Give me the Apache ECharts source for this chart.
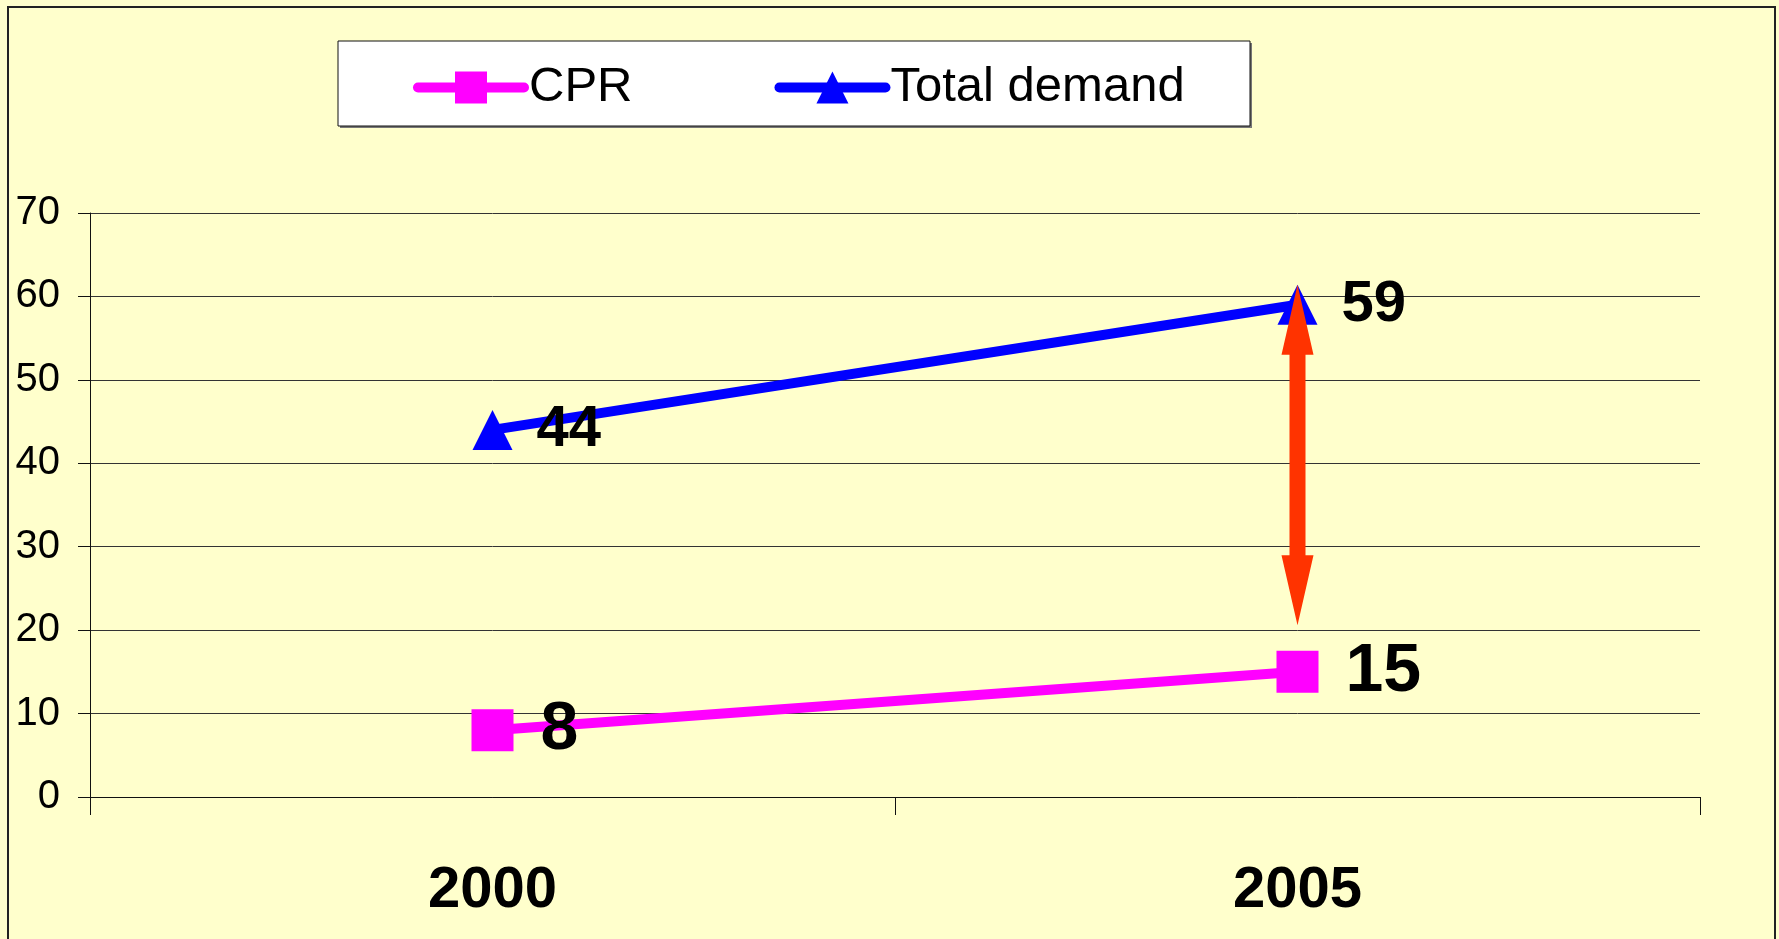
<!DOCTYPE html>
<html>
<head>
<meta charset="utf-8">
<title>CPR and total demand</title>
<script src="https://cdn.jsdelivr.net/npm/echarts@6/dist/echarts.min.js"></script>
<style>
  html, body { margin: 0; padding: 0; background: #ffffcc; }
  #chart { width: 1779px; height: 939px; }
</style>
</head>
<body>
<div id="chart"></div>
<script>
// data
const years = ["2000", "2005"];
const cpr = [8, 15];
const totalDemand = [44, 59];
const yTicks = [0, 10, 20, 30, 40, 50, 60, 70];
// the red double arrow showing the gap in 2005 (from / to, in axis units)
const gapArrow = [["2005", 20.6, 61.4]];

const font = "'Liberation Sans', Arial, sans-serif";

let myChart = echarts.init(document.getElementById("chart"));

let option = {
  backgroundColor: "#ffffcc",
  animation: false,
  textStyle: { fontFamily: font },
  graphic: [
    // outer frame
    {
      type: "rect",
      shape: { x: 8, y: 7, width: 1767, height: 960 },
      style: { fill: "none", stroke: "#222", lineWidth: 2 },
      z: 0
    },
    // legend box shadow + box
    {
      type: "rect",
      shape: { x: 340, y: 43, width: 912, height: 85 },
      style: { fill: "#777" },
      z: 0
    },
    {
      type: "rect",
      shape: { x: 338, y: 41, width: 912, height: 85 },
      style: { fill: "#fff", stroke: "#111", lineWidth: 1 },
      z: 0
    }
  ],
  legend: {
    left: 413,
    top: 63,
    padding: 0,
    itemWidth: 106,
    itemHeight: 40,
    itemGap: 142,
    lineStyle: { width: 10, cap: "round" },
    textStyle: { fontSize: 49, color: "#000", fontFamily: font },
    data: ["CPR", "Total demand"]
  },
  grid: {
    left: 90,
    right: 79,
    top: 213,
    bottom: 142
  },
  xAxis: {
    type: "category",
    data: years,
    boundaryGap: true,
    axisLine: { lineStyle: { color: "#111", width: 1 } },
    axisTick: { show: true, length: 18, alignWithLabel: false, lineStyle: { color: "#111" } },
    axisLabel: {
      margin: 65,
      fontSize: 58,
      fontWeight: "bold",
      color: "#000",
      fontFamily: font
    }
  },
  yAxis: {
    type: "value",
    min: yTicks[0],
    max: yTicks[yTicks.length - 1],
    interval: 10,
    axisLine: { show: true, lineStyle: { color: "#111", width: 1 } },
    axisTick: { show: true, length: 12, lineStyle: { color: "#111" } },
    axisLabel: { margin: 30, fontSize: 40, color: "#000", fontFamily: font },
    splitLine: { show: true, lineStyle: { color: "#333", width: 1 } }
  },
  series: [
    {
      name: "CPR",
      type: "line",
      data: cpr,
      symbol: "rect",
      symbolSize: 42,
      lineStyle: { color: "#ff00ff", width: 10 },
      itemStyle: { color: "#ff00ff" },
      label: {
        show: true,
        position: "right",
        distance: 27,
        fontSize: 68,
        fontWeight: "bold",
        color: "#000",
        fontFamily: font
      },
      z: 3
    },
    {
      name: "Total demand",
      type: "line",
      data: totalDemand,
      symbol: "triangle",
      symbolSize: 40,
      lineStyle: { color: "#0000ff", width: 10 },
      itemStyle: { color: "#0000ff" },
      label: {
        show: true,
        position: "right",
        distance: 24,
        fontSize: 58,
        fontWeight: "bold",
        color: "#000",
        fontFamily: font
      },
      z: 3
    },
    {
      name: "gap",
      type: "custom",
      data: gapArrow,
      encode: { x: 0, y: [1, 2] },
      z: 5,
      silent: true,
      renderItem: function (params, api) {
        let bottom = api.coord([api.value(0), api.value(1)]);
        let top = api.coord([api.value(0), api.value(2)]);
        let x = top[0];
        let shaft = 8, head = 16, headLen = 70;
        let pts = [
          [x, top[1]],
          [x + head, top[1] + headLen],
          [x + shaft, top[1] + headLen],
          [x + shaft, bottom[1] - headLen],
          [x + head, bottom[1] - headLen],
          [x, bottom[1]],
          [x - head, bottom[1] - headLen],
          [x - shaft, bottom[1] - headLen],
          [x - shaft, top[1] + headLen],
          [x - head, top[1] + headLen]
        ];
        return {
          type: "polygon",
          shape: { points: pts },
          style: { fill: "#ff3300" }
        };
      }
    }
  ]
};

myChart.setOption(option);
</script>
</body>
</html>
